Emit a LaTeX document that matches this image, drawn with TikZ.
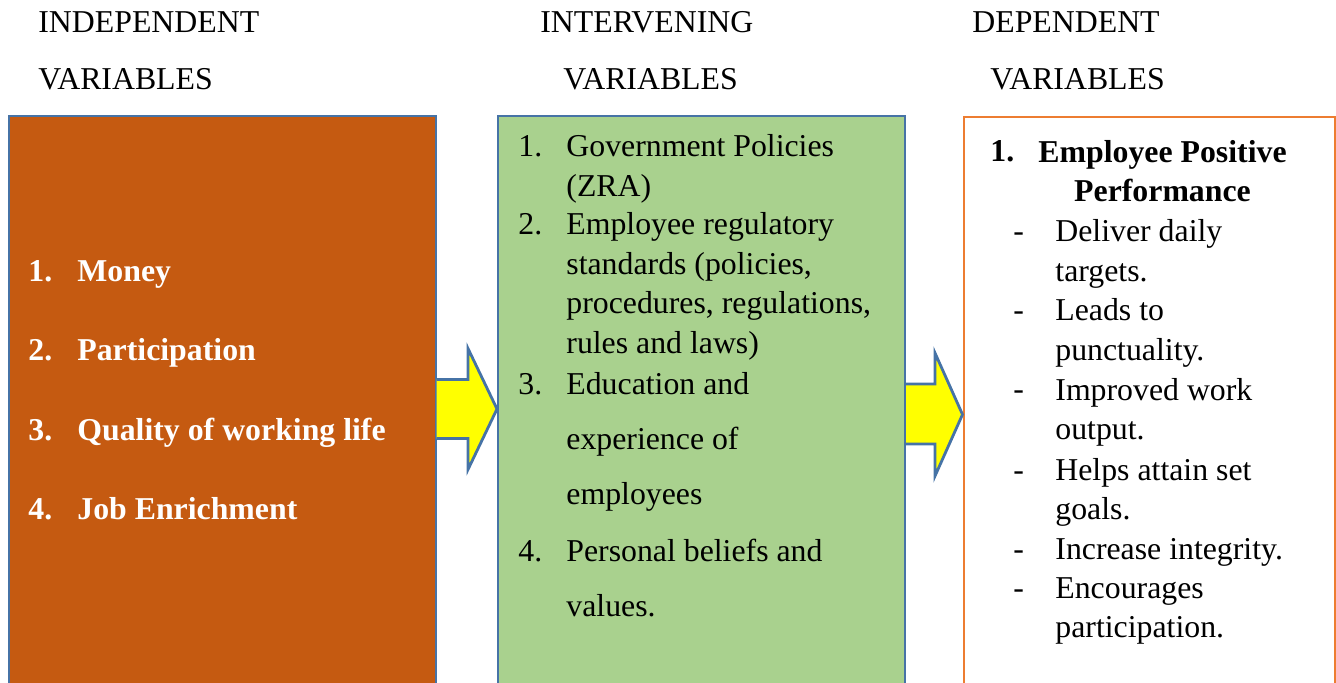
\documentclass[tikz,border=0pt]{standalone}
\usepackage{fontspec}
\setmainfont{Liberation Serif}
\usetikzlibrary{calc}
\definecolor{rust}{HTML}{C55A11}
\definecolor{sage}{HTML}{A9D18E}
\definecolor{edgeblue}{HTML}{4673A6}
\definecolor{tangerine}{HTML}{ED7D31}
\definecolor{signal}{HTML}{FFFF00}
\tikzset{
  varbox/.style={rectangle,anchor=north west,line width=1pt,minimum height=292.5pt},
  head/.style={anchor=base west,inner sep=0pt,align=left,font=\fontsize{15.9}{28.5}\selectfont},
  txt/.style={anchor=base west,inner sep=0pt,align=left,font=\fontsize{15.9}{19.75}\selectfont},
  wide/.style={txt,font=\fontsize{15.9}{27.5}\selectfont},
  strong/.style={txt,font=\fontsize{15.9}{19.75}\selectfont\bfseries},
  blockarrow/.style={draw=edgeblue,fill=signal,line width=1.4pt,line join=miter}
}
\begin{document}
\begin{tikzpicture}[x=0.5pt,y=-0.5pt]
\useasboundingbox (0,0) rectangle (1336,683);
\clip (0,0) rectangle (1336,683);
% column headings (multi-line nodes sit on their last baseline)
\node[head](indephead) at (38,90){INDEPENDENT\\VARIABLES};
\node[head](intervhead) at (540,90){INTERVENING\\\hspace*{11.5pt}VARIABLES};
\node[head](dephead) at (972,90){DEPENDENT\\\hspace*{9pt}VARIABLES};
% the three boxes, bottoms run off the page
\node[varbox,draw=edgeblue,fill=rust,minimum width=213.5pt](indep) at (7.5,115.5){};
\node[varbox,draw=edgeblue,fill=sage,minimum width=203.5pt](interv) at (497,115.5){};
\node[varbox,draw=tangerine,fill=white,minimum width=185.75pt](dep) at (962.5,116){};
% independent variables
\node[strong,text=white](n1) at (28,282){1.};
\node[strong,text=white](money) at (77,282){Money};
\node[strong,text=white](n2) at (28,361){2.};
\node[strong,text=white](partic) at (77,361){Participation};
\node[strong,text=white](n3) at (28,440){3.};
\node[strong,text=white](quality) at (77,440){Quality of working life};
\node[strong,text=white](n4) at (28,519){4.};
\node[strong,text=white](enrich) at (77,519){Job Enrichment};
% intervening variables
\node[txt](m1) at (518,157){1.};
\node[txt](govt) at (566,196.5){Government Policies\\(ZRA)};
\node[txt](m2) at (518,235){2.};
\node[txt](regs) at (566,353.5){Employee regulatory\\standards (policies,\\procedures, regulations,\\rules and laws)};
\node[txt](m3) at (518,394){3.};
\node[wide](educ) at (566,504){Education and\\experience of\\employees};
\node[txt](m4) at (518,561){4.};
\node[wide](beliefs) at (566,616){Personal beliefs and\\values.};
% dependent variables
\node[strong](k1) at (990,162){1.};
\node[strong,align=center](perf) at (1038,202){Employee Positive\\Performance};
\node[txt](d1) at (1013,242){-};
\node[txt](deliver) at (1055,281.5){Deliver daily\\targets.};
\node[txt](d2) at (1013,321){-};
\node[txt](leads) at (1055,360.5){Leads to\\punctuality.};
\node[txt](d3) at (1013,400){-};
\node[txt](improved) at (1055,439.5){Improved work\\output.};
\node[txt](d4) at (1013,480){-};
\node[txt](helps) at (1055,519.5){Helps attain set\\goals.};
\node[txt](d5) at (1013,559){-};
\node[txt](integrity) at (1055,559){Increase integrity.};
\node[txt](d6) at (1013,598){-};
\node[txt](encour) at (1055,637.5){Encourages\\participation.};
% block arrows between the boxes
\draw[blockarrow] ($(indep.east)+(0,-29.5)$) -- ++(31.5,0) -- ++(0,-31) -- (interv.west)
  -- ($(indep.east)+(31.5,60.5)$) -- ++(0,-31) -- ($(indep.east)+(0,29.5)$);
\draw[blockarrow] ($(interv.east)+(0,-25)$) -- ++(29,0) -- ++(0,-31) -- ($(dep.west)+(0,5)$)
  -- ($(interv.east)+(29,67)$) -- ++(0,-32) -- ($(interv.east)+(0,35)$);
\end{tikzpicture}
\end{document}
